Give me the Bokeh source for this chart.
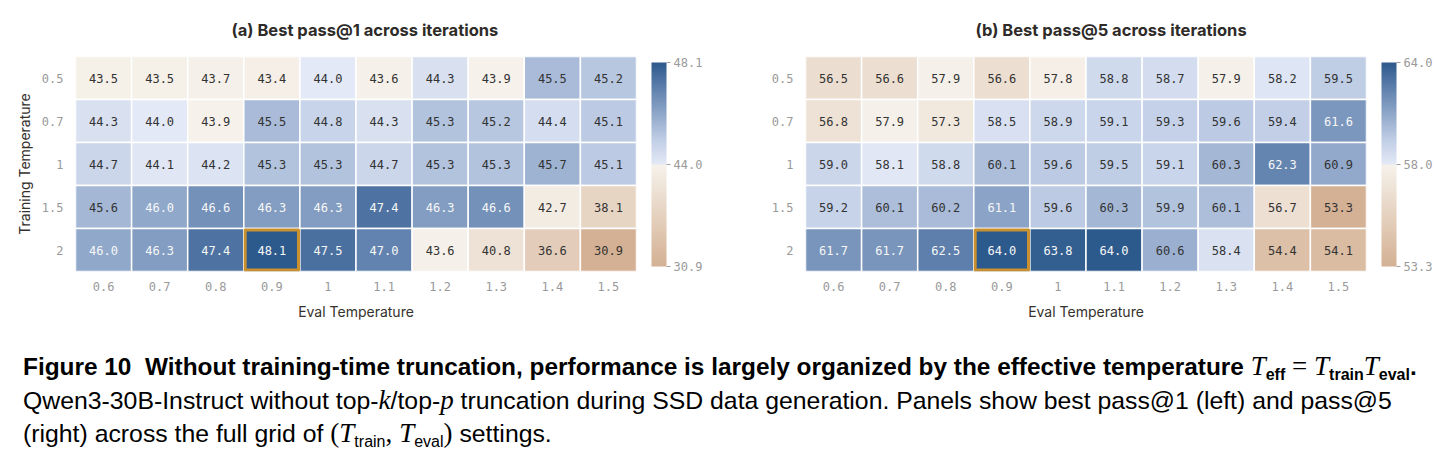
import numpy as np
from bokeh.plotting import figure
from bokeh.models import (ColumnDataSource, LinearColorMapper, ColorBar,
                          FixedTicker, Div, Title)
from bokeh.layouts import column, row
from bokeh.core.properties import value
from bokeh.embed import file_html
from bokeh.resources import INLINE

# ---- data -----------------------------------------------------------------
eval_temps = ["0.6", "0.7", "0.8", "0.9", "1", "1.1", "1.2", "1.3", "1.4", "1.5"]
train_temps = ["0.5", "0.7", "1", "1.5", "2"]

# rows follow train_temps, columns follow eval_temps
pass1 = [
    [43.5, 43.5, 43.7, 43.4, 44.0, 43.6, 44.3, 43.9, 45.5, 45.2],
    [44.3, 44.0, 43.9, 45.5, 44.8, 44.3, 45.3, 45.2, 44.4, 45.1],
    [44.7, 44.1, 44.2, 45.3, 45.3, 44.7, 45.3, 45.3, 45.7, 45.1],
    [45.6, 46.0, 46.6, 46.3, 46.3, 47.4, 46.3, 46.6, 42.7, 38.1],
    [46.0, 46.3, 47.4, 48.1, 47.5, 47.0, 43.6, 40.8, 36.6, 30.9],
]
pass5 = [
    [56.5, 56.6, 57.9, 56.6, 57.8, 58.8, 58.7, 57.9, 58.2, 59.5],
    [56.8, 57.9, 57.3, 58.5, 58.9, 59.1, 59.3, 59.6, 59.4, 61.6],
    [59.0, 58.1, 58.8, 60.1, 59.6, 59.5, 59.1, 60.3, 62.3, 60.9],
    [59.2, 60.1, 60.2, 61.1, 59.6, 60.3, 59.9, 60.1, 56.7, 53.3],
    [61.7, 61.7, 62.5, 64.0, 63.8, 64.0, 60.6, 58.4, 54.4, 54.1],
]
pass1_center = 44.0
pass5_center = 58.0

titles = ["(a) Best pass@1 across iterations", "(b) Best pass@5 across iterations"]

# ---- diverging palette (tan -> cream | pale blue -> deep blue) --------------
def hex2rgb(h):
    h = h.lstrip("#")
    return [int(h[i:i + 2], 16) for i in (0, 2, 4)]


def ramp(stops, n):
    pos = np.array([s[0] for s in stops])
    cols = np.array([hex2rgb(s[1]) for s in stops], dtype=float)
    out = []
    for t in np.linspace(0, 1, n):
        rgb = [np.interp(t, pos, cols[:, k]) for k in range(3)]
        out.append("#%02x%02x%02x" % tuple(int(round(c)) for c in rgb))
    return out


low_half = ramp([(0.0, "#d4b194"), (1.0, "#f6f2eb")], 128)
high_half = ramp([(0.0, "#e3e9f6"), (0.25, "#bfcde5"), (0.5, "#8ea6c9"),
                  (0.75, "#5f80ad"), (1.0, "#2d5a8c")], 128)
palette = low_half + high_half

MONO = "DejaVu Sans Mono"
SANS = "Inter"


def two_slope(v, vmin, vc, vmax):
    v = np.asarray(v, dtype=float)
    return np.where(v < vc, 0.5 * (v - vmin) / (vc - vmin),
                    0.5 + 0.5 * (v - vc) / (vmax - vc))


def panel(grid, center, title, title_offset, left_border, right_border):
    vals = np.array(grid, dtype=float)
    vmin, vmax = vals.min(), vals.max()
    xs, ys, vs = [], [], []
    for i, t in enumerate(train_temps):
        for j, e in enumerate(eval_temps):
            xs.append(e)
            ys.append(t)
            vs.append(vals[i, j])
    norm = two_slope(vs, vmin, center, vmax)
    tcol = ["#f7f7f7" if n > 0.743 else "#333333" for n in norm]
    src = ColumnDataSource(dict(x=xs, y=ys, v=vs, norm=norm, tcol=tcol,
                                label=["%.1f" % v for v in vs]))

    mapper = LinearColorMapper(palette=palette, low=0, high=1)

    p = figure(x_range=eval_temps, y_range=list(reversed(train_temps)),
               frame_width=561, frame_height=215,
               min_border_left=left_border, min_border_right=right_border,
               min_border_top=56, min_border_bottom=59,
               toolbar_location=None, output_backend="svg",
               background_fill_color="white", border_fill_color="white",
               title=None)

    p.rect(x="x", y="y", width=1, height=1, source=src,
           fill_color={"field": "norm", "transform": mapper},
           line_color="white", line_width=1.5)
    p.text(x="x", y="y", text="label", source=src,
           text_align="center", text_baseline="middle",
           text_font=value(MONO), text_font_size="12px", text_color="tcol")

    # outline the best cell
    bi, bj = np.unravel_index(np.argmax(vals), vals.shape)
    best = ColumnDataSource(dict(x=[eval_temps[bj]], y=[train_temps[bi]]))
    p.rect(x="x", y="y", width=0.95, height=0.93, source=best,
           fill_color=None, line_color="#c8902e", line_width=3,
           line_join="round")

    p.add_layout(Title(text=title, text_font=SANS, text_font_style="bold",
                       text_font_size="16.5px", text_color="#2e2b28",
                       align="left", offset=title_offset, standoff=33), "above")

    for ax in (p.xaxis[0], p.yaxis[0]):
        ax.axis_line_color = None
        ax.major_tick_line_color = None
        ax.minor_tick_line_color = None
        ax.major_label_text_font = MONO
        ax.major_label_text_font_size = "12px"
        ax.major_label_text_color = "#9a9a9a"
        ax.axis_label_text_font = SANS
        ax.axis_label_text_font_style = "normal"
        ax.axis_label_text_font_size = "14px"
        ax.axis_label_text_color = "#35312d"
    p.xaxis.axis_label = "Eval Temperature"
    p.xaxis.major_label_standoff = 4
    p.xaxis.axis_label_standoff = 9
    p.yaxis.major_label_standoff = 6
    p.yaxis.axis_label_standoff = 6

    p.xgrid.visible = False
    p.ygrid.visible = False
    p.outline_line_color = None

    cb = ColorBar(color_mapper=mapper,
                  ticker=FixedTicker(ticks=[0, 0.5, 1]),
                  major_label_overrides={0: "%.1f" % vmin, 0.5: "%.1f" % center,
                                         1: "%.1f" % vmax},
                  width=15, height=204, padding=0, margin=0,
                  location=(15, 5),
                  major_tick_in=0, major_tick_out=4,
                  major_tick_line_color="#a0a0a0",
                  minor_tick_line_color=None,
                  bar_line_color=None,
                  major_label_text_font=MONO,
                  major_label_text_font_size="12px",
                  major_label_text_color="#9a9a9a",
                  label_standoff=3,
                  background_fill_color=None)
    p.add_layout(cb, "right")
    return p


p1 = panel(pass1, pass1_center, titles[0], 156, 75, 90)
p1.yaxis.axis_label = "Training Temperature"
p2 = panel(pass5, pass5_center, titles[1], 170, 79, 86)

SERIF = "'Liberation Serif'"


def T():
    return ("<span style=\"font-family:%s;font-style:italic;font-weight:normal;"
            "font-size:27px\">T</span>" % SERIF)


def sub(s, bold):
    w = "bold" if bold else "normal"
    return ("<span style=\"font-size:16px;font-weight:%s;position:relative;top:5px\">%s</span>" % (w, s))


def serif(s, italic=False):
    st = "italic" if italic else "normal"
    return ("<span style=\"font-family:%s;font-style:%s;font-size:27px\">%s</span>" % (SERIF, st, s))


line_style = "height:34px;line-height:34px;white-space:nowrap;"
caption_html = (
    "<div style=\"font-family:'Liberation Sans';color:#000;padding-left:18px;padding-top:14px\">"
    "<div style=\"" + line_style + "font-size:24.4px;font-weight:bold\">"
    "Figure 10&nbsp; Without training-time truncation, performance is largely "
    "organized by the effective temperature " + T() + sub("eff", True) +
    " <span style=\"font-weight:normal\">" + serif("=") + "</span> " +
    T() + sub("train", True) + T() + sub("eval", True) + ".</div>"
    "<div style=\"" + line_style + "font-size:24.8px\">"
    "Qwen3-30B-Instruct without top-" + serif("k", True) + "/top-" + serif("p", True) +
    " truncation during SSD data generation. Panels show best pass@1 (left) and pass@5</div>"
    "<div style=\"height:33px;line-height:33px;white-space:nowrap;font-size:24.8px\">"
    "(right) across the full grid of " + serif("(") + T() + sub("train", False) +
    serif(",") + " " + T() + sub("eval", False) + serif(")") + " settings.</div>"
    "</div>"
)
caption = Div(text=caption_html, width=1452, height=132)

layout = column(row(p1, p2), caption)
open("out.html", "w").write(file_html(layout, INLINE))
